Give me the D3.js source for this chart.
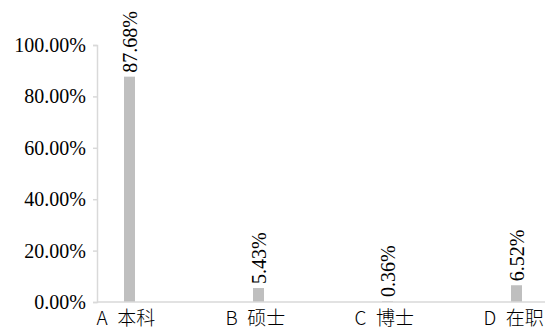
<!DOCTYPE html>
<html lang="en">
<head>
<meta charset="utf-8">
<script src="https://cdn.jsdelivr.net/npm/d3@7"></script>
</head>
<body style="margin:0">
<div id="chart"></div>
<script>
// data
const categories = ["A 本科", "B 硕士", "C 博士", "D 在职"];
const values = [0.8768, 0.0543, 0.0036, 0.0652];
const valueLabels = ["87.68%", "5.43%", "0.36%", "6.52%"];
const yTicks = [0, 0.2, 0.4, 0.6, 0.8, 1.0];

const w = 545, h = 333;
const axisColor = "#d9d9d9";
const barColor = "#bfbfbf";
const serif = "'Liberation Serif', 'Times New Roman', serif";

const svg = d3.select("#chart").append("svg")
  .attr("width", w)
  .attr("height", h)
  .style("display", "block");

const x = d3.scalePoint()
  .domain(categories)
  .range([129.5, 516.5]);

const y = d3.scaleLinear()
  .domain([0, 1])
  .range([302, 45]);

const barW = 11;

// y axis
const yAxis = svg.append("g")
  .attr("transform", "translate(97,0)")
  .call(d3.axisLeft(y).tickValues(yTicks).tickSize(4).tickPadding(7)
    .tickFormat(d => (d * 100).toFixed(2) + "%"));
yAxis.attr("font-family", null).attr("font-size", 20);
yAxis.select(".domain").attr("stroke", axisColor).attr("stroke-width", 1.5);
yAxis.selectAll(".tick line").attr("stroke", axisColor).attr("stroke-width", 1.5);
yAxis.selectAll(".tick text")
  .attr("fill", "#000")
  .style("font-family", serif, "important");

// bars
svg.selectAll(".bar")
  .data(values)
  .join("rect")
  .attr("class", "bar")
  .attr("x", (d, i) => x(categories[i]) - barW / 2)
  .attr("y", d => y(d))
  .attr("width", barW)
  .attr("height", d => y(0) - y(d))
  .attr("fill", barColor);

// x axis line
svg.append("line")
  .attr("x1", 97).attr("x2", w)
  .attr("y1", y(0)).attr("y2", y(0))
  .attr("stroke", axisColor)
  .attr("stroke-width", 1.5);

// value labels (rotated)
svg.selectAll(".val")
  .data(values)
  .join("text")
  .attr("class", "val")
  .attr("transform", (d, i) => `translate(${x(categories[i]) + 7},${y(d) - 4}) rotate(-90)`)
  .style("font-family", serif, "important")
  .attr("font-size", 20)
  .attr("fill", "#000")
  .text((d, i) => valueLabels[i]);

// category labels, left-aligned a bit before each bar
svg.selectAll(".cat")
  .data(categories)
  .join("text")
  .attr("class", "cat")
  .attr("x", d => x(d) - 33)
  .attr("y", 325)
  .style("font-family", "'Noto Sans CJK SC', sans-serif", "important")
  .attr("font-weight", 300)
  .attr("font-size", 19)
  .attr("fill", "#000")
  .text(d => d.replace(" ", "\u2002"));
</script>
</body>
</html>
